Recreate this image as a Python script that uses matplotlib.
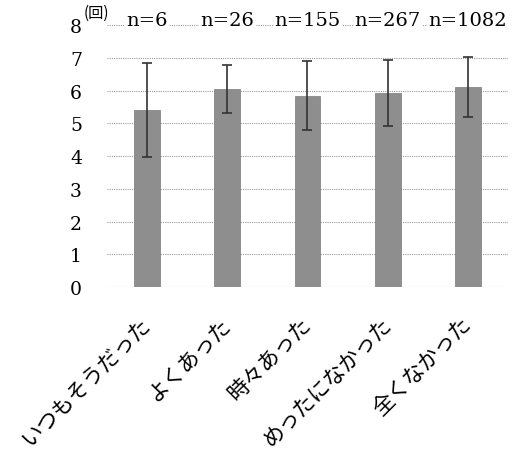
import matplotlib
matplotlib.use("Agg")
import matplotlib.pyplot as plt
import matplotlib.transforms as mtransforms

categories = ["いつもそうだった", "よくあった", "時々あった", "めったになかった", "全くなかった"]
means = [5.41, 6.05, 5.84, 5.93, 6.10]
errors = [1.43, 0.74, 1.05, 1.01, 0.92]
n_labels = ["n=6", "n=26", "n=155", "n=267", "n=1082"]
yticks = [0, 1, 2, 3, 4, 5, 6, 7, 8]

fig = plt.figure(figsize=(5.32, 4.56), dpi=100)
ax = fig.add_axes([0.201, 0.368, 0.754, 0.575])

x = list(range(len(categories)))
ax.bar(x, means, width=0.32, color="#8e8e8e", edgecolor="#7a7a7a", linewidth=0.5, zorder=2)
ax.errorbar(x, means, yerr=errors, fmt="none", ecolor="#333333", elinewidth=1.2,
            capsize=3.8, capthick=1.2, zorder=3)

ax.set_xlim(-0.5, len(categories) - 0.5)
ax.set_ylim(0, 8)
ax.set_yticks(yticks)
ax.set_yticklabels([str(v) for v in yticks], family="DejaVu Serif", fontsize=13.5)
ax.yaxis.grid(True, linestyle=(0, (1, 1)), color="#9a9a9a", linewidth=0.8, zorder=0)
ax.set_axisbelow(True)
for s in ax.spines.values():
    s.set_visible(False)
ax.tick_params(axis="y", length=0, pad=18)
ax.tick_params(axis="x", length=0, pad=24)

ax.set_xticks(x)
ax.set_xticklabels(categories, family=["Noto Sans CJK JP"], fontsize=15.5,
                   rotation=45, ha="right", va="center", rotation_mode="anchor")

for xi, lab in zip(x, n_labels):
    ax.text(xi, 8, lab, ha="center", va="baseline", family="DejaVu Serif", fontsize=14,
            bbox=dict(facecolor="white", edgecolor="none", pad=1.0), zorder=4, clip_on=False)

off = mtransforms.offset_copy(ax.transAxes, fig=fig, x=-17, y=3, units="points")
ax.text(0, 1, "(回)", transform=off, ha="left", va="bottom", fontsize=11,
        family=["Noto Sans CJK JP"])

fig.savefig("out.png", dpi=100)
